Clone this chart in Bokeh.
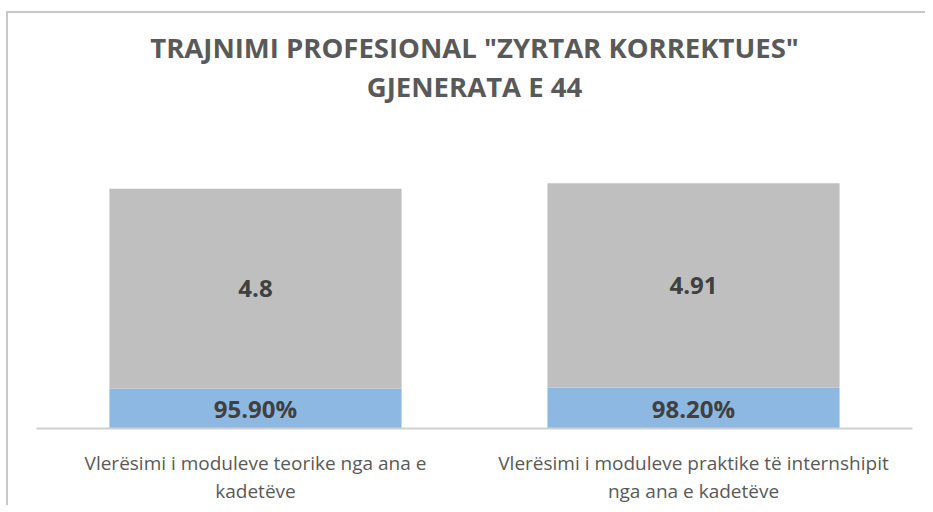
from bokeh.plotting import figure
from bokeh.models import ColumnDataSource, FactorRange, Range1d, LabelSet, Title
from bokeh.core.properties import value
from bokeh.embed import file_html
from bokeh.resources import INLINE

# ---- data ----
categories = [
    "Vlerësimi i moduleve teorike nga ana e\nkadetëve",
    "Vlerësimi i moduleve praktike të internshipit\nnga ana e kadetëve",
]
percent_values = [0.959, 0.982]
score_values = [4.8, 4.91]
title_line1 = 'TRAJNIMI PROFESIONAL "ZYRTAR KORREKTUES"'
title_line2 = "GJENERATA E 44"

BLUE = "#8db8e2"
GRAY = "#bfbfbf"

src = ColumnDataSource(dict(
    cat=categories,
    perc=percent_values,
    score=score_values,
    perc_mid=[v / 2 for v in percent_values],
    score_mid=[p + s / 2 for p, s in zip(percent_values, score_values)],
    perc_txt=[f"{v*100:.2f}%" for v in percent_values],
    score_txt=[f"{s:g}" for s in score_values],
))

p = figure(
    width=919, height=494,
    x_range=FactorRange(*categories, range_padding=0),
    y_range=Range1d(0, 7.78),
    output_backend="svg", toolbar_location=None,
    min_border_left=28, min_border_right=15,
    min_border_top=91, min_border_bottom=76,
    title=None,
)
p.styles = {"border-top": "2px solid #c9c9c9", "border-left": "2px solid #c9c9c9",
            "margin-top": "11px", "margin-left": "6px"}

tstyle = dict(align="center", text_font="Open Sans", text_font_size="27.5px",
              text_font_style="bold", text_color="#595959",
              text_line_height=1.0, standoff=0)
p.add_layout(Title(text=title_line2, **tstyle), "above")
p.add_layout(Title(text=title_line1, **tstyle), "above")

p.vbar_stack(["perc", "score"], x="cat", width=0.667, color=[BLUE, GRAY],
             line_color=None, source=src)

common = dict(x="cat", source=src, text_align="center", text_baseline="middle",
              text_font=value("Open Sans"), text_font_style="bold",
              text_font_size="24px", text_color="#404040")
p.add_layout(LabelSet(y="perc_mid", text="perc_txt", **common))
p.add_layout(LabelSet(y="score_mid", text="score_txt", **common))

p.yaxis.visible = False
p.xgrid.visible = False
p.ygrid.visible = False
p.outline_line_color = None

xa = p.xaxis[0]
xa.axis_line_color = "#d0d0d0"
xa.axis_line_width = 2
xa.major_tick_line_color = None
xa.minor_tick_line_color = None
xa.major_label_text_font = "Open Sans"
xa.major_label_text_font_size = "19px"
xa.major_label_text_color = "#595959"
xa.major_label_text_line_height = 1.1
xa.major_label_standoff = 15

open("out.html", "w").write(file_html(p, INLINE))
